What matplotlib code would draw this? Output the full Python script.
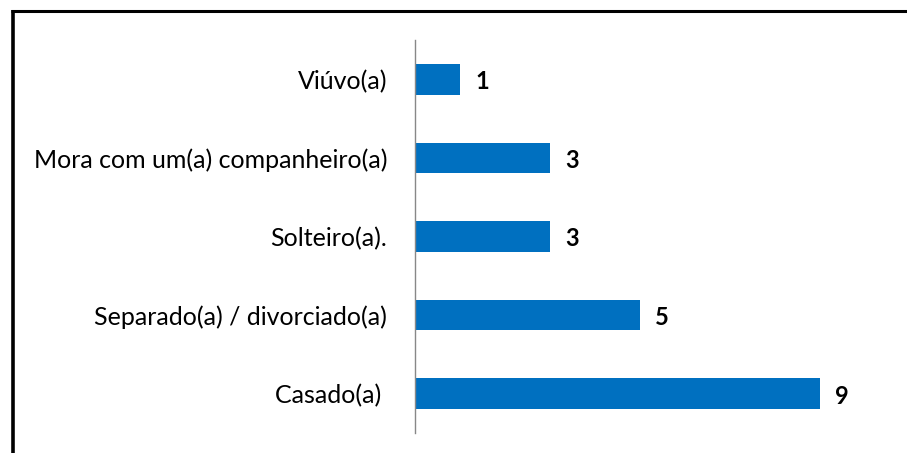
import matplotlib
matplotlib.use("Agg")
import matplotlib.pyplot as plt
from matplotlib.lines import Line2D

# categories from bottom to top
categorias = ["Casado(a) ", "Separado(a) / divorciado(a)", "Solteiro(a).",
              "Mora com um(a) companheiro(a)", "Viúvo(a)"]
valores = [9, 5, 3, 3, 1]

W, H = 907, 453
fig = plt.figure(figsize=(W / 100, H / 100), dpi=100)
plt.rcParams['font.family'] = ['Lato', 'DejaVu Sans']

ax_left, ax_right = 415, 865
ax_top, ax_bot = 40, 433
ax = fig.add_axes([ax_left / W, 1 - ax_bot / H, (ax_right - ax_left) / W, (ax_bot - ax_top) / H])

pos = range(len(categorias))
ax.barh(pos, valores, height=0.39, color="#0070C0")
ax.set_xlim(0, 10)
ax.set_ylim(-0.5, len(categorias) - 0.5)
ax.set_yticks(list(pos))
ax.set_yticklabels(categorias, fontsize=18, color="black")
ax.tick_params(axis="y", length=0, pad=20)
ax.set_xticks([])
for s in ["top", "right", "bottom"]:
    ax.spines[s].set_visible(False)
ax.spines["left"].set_color("#888888")
ax.spines["left"].set_linewidth(1)

for i, v in enumerate(valores):
    ax.annotate(str(v), (v, i - 0.03), xytext=(11, 0), textcoords="offset points",
                ha="left", va="center", fontsize=17, fontweight="bold")

# outer border (left + top)
fig.add_artist(Line2D([12.5 / W, 12.5 / W], [0, 1 - 10 / H], color="black", lw=2.6,
                      transform=fig.transFigure, solid_capstyle="butt"))
fig.add_artist(Line2D([11 / W, 1], [1 - 11 / H, 1 - 11 / H], color="black", lw=2.2,
                      transform=fig.transFigure, solid_capstyle="butt"))

fig.savefig("out.png", dpi=100)
